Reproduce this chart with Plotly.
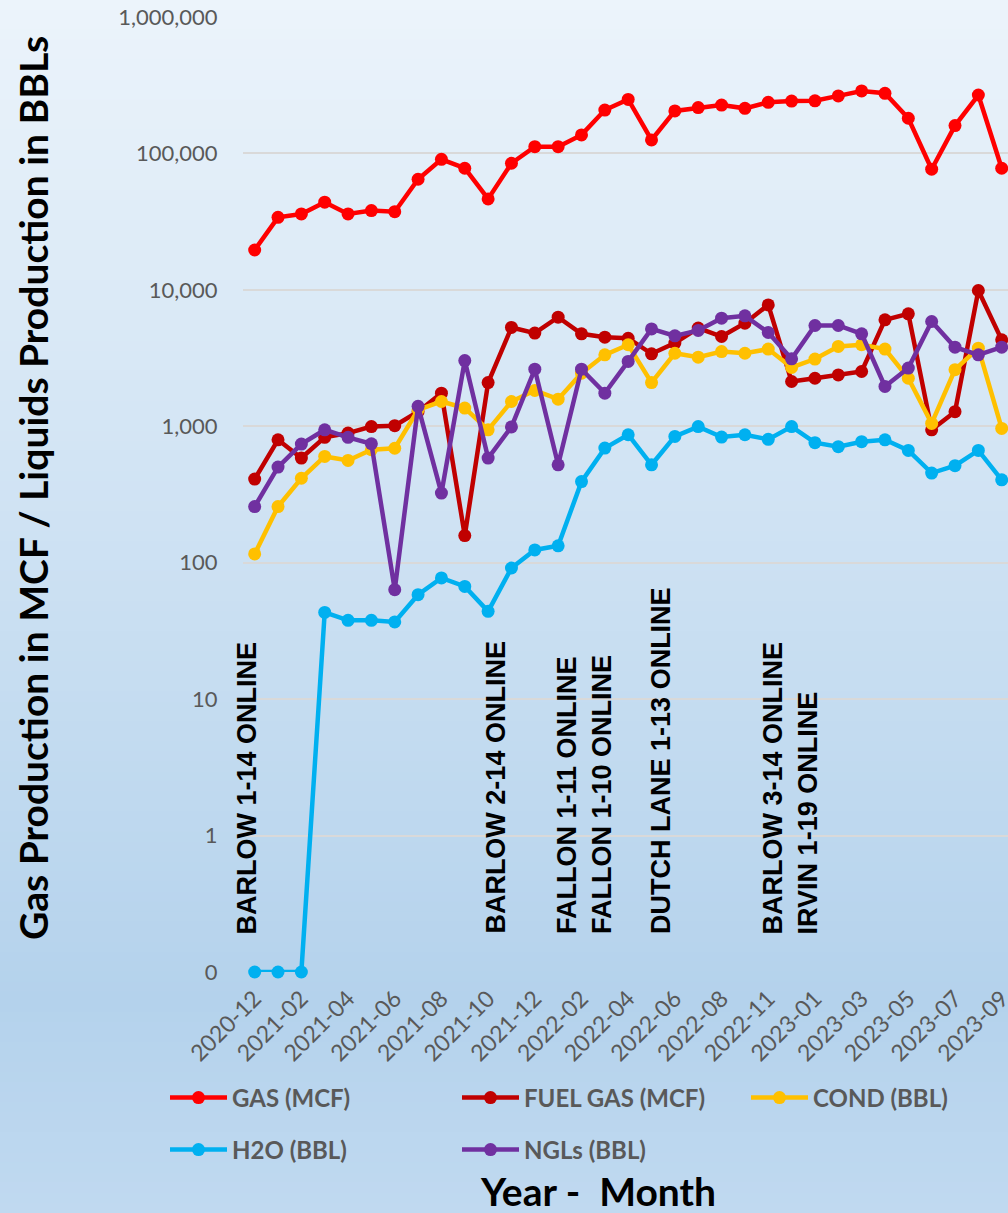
import plotly.graph_objects as go
import numpy as np

months = ['2020-12', '2021-01', '2021-02', '2021-03', '2021-04', '2021-05', '2021-06',
          '2021-07', '2021-08', '2021-09', '2021-10', '2021-11', '2021-12', '2022-01',
          '2022-02', '2022-03', '2022-04', '2022-05', '2022-06', '2022-07', '2022-08',
          '2022-09', '2022-11', '2022-12', '2023-01', '2023-02', '2023-03', '2023-04',
          '2023-05', '2023-06', '2023-07', '2023-08', '2023-09']

gas = [19600, 34000, 36000, 43900, 36000, 38100, 37400, 64700, 90600, 77900, 46400,
       84700, 112000, 112000, 136700, 208000, 249000, 125600, 205000, 217000, 226000,
       214000, 237000, 242000, 243000, 264000, 287000, 276000, 181000, 76600, 160000,
       268000, 77900]
fuel_gas = [410, 796, 585, 830, 891, 995, 1010, 1280, 1750, 158, 2090, 5300, 4820, 6310,
            4760, 4500, 4420, 3400, 4070, 5250, 4550, 5700, 7760, 2130, 2250, 2380, 2520,
            6030, 6670, 942, 1280, 9890, 4300]
cond = [116, 258, 416, 601, 562, 673, 690, 1320, 1520, 1360, 942, 1520, 1830, 1580, 2450,
        3340, 3960, 2090, 3430, 3210, 3530, 3430, 3680, 2700, 3110, 3850, 3960, 3680, 2250,
        1050, 2600, 3740, 964]
h2o = [0, 0, 0, 43.2, 37.8, 37.8, 36.8, 58.3, 77.3, 67, 44, 91.5, 124, 133, 393, 692, 867,
       522, 843, 995, 834, 867, 802, 995, 758, 709, 771, 796, 665, 454, 514, 665, 405]
ngls = [258, 502, 741, 942, 830, 745, 63.4, 1400, 324, 3030, 585, 990, 2620, 522, 2620,
        1750, 2990, 5170, 4600, 5040, 6200, 6450, 4870, 3120, 5480, 5480, 4760, 1960, 2670,
        5860, 3800, 3340, 3800]

series_names = ['GAS (MCF)', 'FUEL GAS (MCF)', 'COND (BBL)', 'H2O (BBL)', 'NGLs (BBL)']
series_colors = ['#FF0000', '#C00000', '#FFC000', '#00B0F0', '#7030A0']
series_legend = ['legend', 'legend', 'legend3', 'legend2', 'legend2']

y_tickvals = [0.1, 1, 10, 100, 1000, 10000, 100000, 1000000]
y_ticktext = ['0', '1', '10', '100', '1,000', '10,000', '100,000', '1,000,000']

events = [
    ('BARLOW 1-14 ONLINE', -0.33),
    ('BARLOW 2-14 ONLINE', 10.3),
    ('FALLON 1-11 ONLINE<br>FALLON 1-10 ONLINE', 14.13),
    ('DUTCH LANE 1-13 ONLINE', 17.38),
    ('BARLOW 3-14 ONLINE<br>IRVIN 1-19 ONLINE', 22.97),
]

AXIS_FLOOR = 0.1  # log axis floor shown as "0"

W, H = 1008, 1213
ML, MR, MT, MB = 243, 0, 17, 241
PW, PH = W - ML - MR, H - MT - MB


def px_to_paper_x(px):
    return (px - ML) / PW


def px_to_paper_y(py):
    return (H - MB - py) / PH


fig = go.Figure()

all_series = [gas, fuel_gas, cond, h2o, ngls]
for name, color, vals, lg in zip(series_names, series_colors, all_series, series_legend):
    yv = [v if v > 0 else AXIS_FLOOR for v in vals]
    fig.add_trace(go.Scatter(
        x=months, y=yv, mode='lines+markers', name=name, legend=lg,
        line=dict(color=color, width=4.5),
        marker=dict(size=13, color=color),
        cliponaxis=False,
    ))

# background gradient bands
stops_y = [0, 1000, H]
stops_c = [(236, 244, 251), (180, 210, 236), (192, 217, 240)]
nb = 121
shapes = []
edges = np.linspace(0, H, nb + 1)
for i in range(nb):
    yc = (edges[i] + edges[i + 1]) / 2
    col = [int(round(np.interp(yc, stops_y, [c[k] for c in stops_c]))) for k in range(3)]
    shapes.append(dict(
        type='rect', xref='paper', yref='paper', layer='below',
        x0=px_to_paper_x(-2), x1=px_to_paper_x(W + 2),
        y0=px_to_paper_y(edges[i + 1] + 0.6), y1=px_to_paper_y(edges[i] - 0.6),
        fillcolor='rgb(%d,%d,%d)' % tuple(col), line=dict(width=0),
    ))

annotations = []
for text, xi in events:
    annotations.append(dict(
        text=text, x=xi, xref='x', y=px_to_paper_y(936), yref='paper',
        xanchor='center', yanchor='bottom', textangle=-90, align='left',
        showarrow=False,
        font=dict(family='Liberation Sans', size=27, color='#000000', weight='bold'),
    ))

annotations.append(dict(
    text='Gas Production in MCF / Liquids Production in BBLs',
    x=px_to_paper_x(33), y=px_to_paper_y(488), xref='paper', yref='paper',
    xanchor='center', yanchor='middle', textangle=-90, showarrow=False,
    font=dict(family='Lato', size=39, color='#000000', weight='bold'),
))
annotations.append(dict(
    text='Year - \u00a0Month',
    x=px_to_paper_x(598), y=px_to_paper_y(1191), xref='paper', yref='paper',
    xanchor='center', yanchor='middle', showarrow=False,
    font=dict(family='Lato', size=39, color='#000000', weight='bold'),
))

legend_common = dict(
    orientation='h', xanchor='left', yanchor='middle',
    bgcolor='rgba(0,0,0,0)', borderwidth=0,
    font=dict(family='Lato', size=24, color='#595959', weight='bold'),
    entrywidthmode='pixels', itemwidth=57,
)

fig.update_layout(
    width=W, height=H,
    margin=dict(l=ML, r=MR, t=MT, b=MB, pad=0, autoexpand=False),
    paper_bgcolor='rgb(208,227,244)',
    plot_bgcolor='rgba(0,0,0,0)',
    shapes=shapes,
    annotations=annotations,
    legend=dict(x=px_to_paper_x(165), y=px_to_paper_y(1098), entrywidth=220,
                **legend_common),
    legend3=dict(x=px_to_paper_x(746), y=px_to_paper_y(1098), entrywidth=150,
                 **legend_common),
    legend2=dict(x=px_to_paper_x(165), y=px_to_paper_y(1150), entrywidth=220,
                 **legend_common),
    xaxis=dict(
        type='category', range=[-0.5, 32.27], automargin=False,
        tickmode='array', tickvals=months[::2], tickangle=-45,
        tickfont=dict(family='Lato', size=23, color='#595959'),
        showgrid=False, showline=False, zeroline=False,
        ticks='outside', ticklen=3, tickcolor='rgba(0,0,0,0)',
    ),
    yaxis=dict(
        type='log', range=[-1, 6], automargin=False,
        tickmode='array', tickvals=y_tickvals, ticktext=y_ticktext,
        tickfont=dict(family='Lato', size=22, color='#595959'),
        showgrid=True, gridcolor='#D9D9D9', gridwidth=1.5,
        ticks='outside', ticklen=20, tickcolor='rgba(0,0,0,0)',
        showline=False, zeroline=False,
    ),
    showlegend=True,
)

fig.write_html(
    'out.html',
    config={'displayModeBar': False},
    post_script="document.body.style.margin='0';document.body.style.padding='0';"
                "document.body.style.overflow='hidden';"
                "document.documentElement.style.overflow='hidden';",
)
